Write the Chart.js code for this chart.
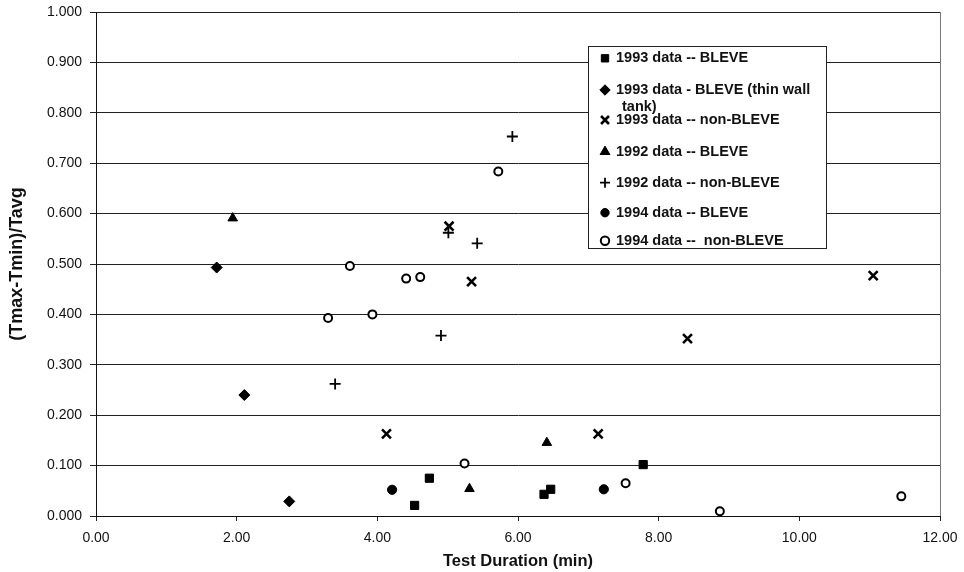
<!DOCTYPE html>
<html>
<head>
<meta charset="utf-8">
<script src="https://cdn.jsdelivr.net/npm/chart.js@4/dist/chart.umd.min.js"></script>
<style>
  html, body { margin: 0; padding: 0; background: #fff; }
  #wrap { width: 964px; height: 572px; }
</style>
</head>
<body>
<div id="wrap"><canvas id="c" width="964" height="572"></canvas></div>
<script>
// Series names
const seriesLabels = [
  "1993 data -- BLEVE",
  "1993 data - BLEVE (thin wall\ntank)",
  "1993 data -- non-BLEVE",
  "1992 data -- BLEVE",
  "1992 data -- non-BLEVE",
  "1994 data -- BLEVE",
  "1994 data --  non-BLEVE"
];

// Test duration (min) and (Tmax-Tmin)/Tavg for each series
const bleve1993X = [4.53, 4.74, 6.37, 6.465, 7.78];
const bleve1993Y = [0.021, 0.075, 0.043, 0.053, 0.102];

const thinWall1993X = [1.716, 2.109, 2.748];
const thinWall1993Y = [0.493, 0.240, 0.029];

const nonBleve1993X = [4.13, 5.02, 5.34, 7.14, 8.41, 11.05];
const nonBleve1993Y = [0.163, 0.575, 0.465, 0.163, 0.352, 0.477];

const bleve1992X = [1.944, 5.31, 6.41];
const bleve1992Y = [0.591, 0.054, 0.1455];

const nonBleve1992X = [3.40, 4.905, 5.01, 5.42, 5.92];
const nonBleve1992Y = [0.262, 0.358, 0.562, 0.541, 0.753];

const bleve1994X = [4.21, 7.22];
const bleve1994Y = [0.052, 0.053];

const nonBleve1994X = [3.30, 3.61, 3.93, 4.41, 4.61, 5.24, 5.72, 7.53, 8.87, 11.45];
const nonBleve1994Y = [0.393, 0.496, 0.400, 0.471, 0.474, 0.104, 0.6835, 0.065, 0.0095, 0.039];

// Axis ticks
const xTicks = [0, 2, 4, 6, 8, 10, 12];
const yTicks = [0, 0.1, 0.2, 0.3, 0.4, 0.5, 0.6, 0.7, 0.8, 0.9, 1.0];

const pairs = (xs, ys) => xs.map((x, i) => ({ x: x, y: ys[i] }));

const black = '#000';
const datasets = [
  { label: seriesLabels[0], data: pairs(bleve1993X, bleve1993Y), pointStyle: 'rect', pointRadius: 5.8, backgroundColor: black, borderColor: black, borderWidth: 1 },
  { label: seriesLabels[1], data: pairs(thinWall1993X, thinWall1993Y), pointStyle: 'rectRot', pointRadius: 5.5, backgroundColor: black, borderColor: black, borderWidth: 1 },
  { label: seriesLabels[2], data: pairs(nonBleve1993X, nonBleve1993Y), pointStyle: 'crossRot', pointRadius: 6.3, backgroundColor: black, borderColor: black, borderWidth: 2.6 },
  { label: seriesLabels[3], data: pairs(bleve1992X, bleve1992Y), pointStyle: 'triangle', pointRadius: 5.5, backgroundColor: black, borderColor: black, borderWidth: 1 },
  { label: seriesLabels[4], data: pairs(nonBleve1992X, nonBleve1992Y), pointStyle: 'cross', pointRadius: 5.5, backgroundColor: black, borderColor: black, borderWidth: 1.8 },
  { label: seriesLabels[5], data: pairs(bleve1994X, bleve1994Y), pointStyle: 'circle', pointRadius: 4.6, backgroundColor: black, borderColor: black, borderWidth: 1 },
  { label: seriesLabels[6], data: pairs(nonBleve1994X, nonBleve1994Y), pointStyle: 'circle', pointRadius: 4, backgroundColor: '#fff', borderColor: black, borderWidth: 2 }
];
datasets.forEach(d => { d.showLine = false; d.pointHoverRadius = d.pointRadius; });

// Marker sizes used inside the legend box
const legendRadius = { rect: 5.2, rectRot: 5.2, crossRot: 5.6, triangle: 5.6, cross: 5, circle: 4.2 };

// Legend box drawn over the plot area, top right
const boxedLegend = {
  id: 'boxedLegend',
  afterDatasetsDraw(chart) {
    const ctx = chart.ctx;
    const box = { left: 588, top: 46, right: 826, bottom: 248 };
    const rows = [58.3, 90, 120, 151.7, 182.7, 212.7, 240.7];
    const lineGap = 17.3;
    ctx.save();
    ctx.fillStyle = '#fff';
    ctx.fillRect(box.left, box.top, box.right - box.left, box.bottom - box.top);
    ctx.strokeStyle = '#222';
    ctx.lineWidth = 1;
    ctx.strokeRect(box.left + 0.5, box.top + 0.5, box.right - box.left, box.bottom - box.top);
    ctx.beginPath();
    ctx.rect(box.left, box.top, box.right - box.left, box.bottom - box.top);
    ctx.clip();
    ctx.font = "bold 14.5px 'Liberation Sans', Arial, sans-serif";
    ctx.textBaseline = 'middle';
    ctx.textAlign = 'left';
    chart.data.datasets.forEach((ds, i) => {
      const y = rows[i];
      ctx.save();
      ctx.fillStyle = ds.backgroundColor;
      ctx.strokeStyle = ds.borderColor;
      ctx.lineWidth = ds.borderWidth;
      Chart.helpers.drawPoint(ctx, { pointStyle: ds.pointStyle, radius: legendRadius[ds.pointStyle], rotation: 0, borderWidth: ds.borderWidth }, 605, y);
      ctx.restore();
      ctx.fillStyle = '#111';
      ds.label.split('\n').forEach((line, k) => {
        ctx.fillText(line, k === 0 ? 616 : 622, y + k * lineGap);
      });
    });
    ctx.restore();
  },
  afterDraw(chart) {
    // right-hand edge of the plot frame
    const a = chart.chartArea;
    const ctx = chart.ctx;
    ctx.save();
    ctx.strokeStyle = '#777';
    ctx.lineWidth = 1;
    ctx.beginPath();
    ctx.moveTo(Math.round(a.right) + 0.5, a.top);
    ctx.lineTo(Math.round(a.right) + 0.5, a.bottom);
    ctx.stroke();
    ctx.restore();
  }
};

new Chart(document.getElementById('c'), {
  type: 'scatter',
  data: { datasets: datasets },
  plugins: [boxedLegend],
  options: {
    responsive: false,
    animation: false,
    devicePixelRatio: 1,
    layout: { padding: { left: 0, right: 24, top: 12, bottom: 0 } },
    plugins: {
      legend: { display: false },
      tooltip: { enabled: false }
    },
    scales: {
      x: {
        type: 'linear',
        min: xTicks[0],
        max: xTicks[xTicks.length - 1],
        afterBuildTicks(scale) { scale.ticks = xTicks.map(v => ({ value: v })); },
        afterFit(scale) { scale.height = 56; scale.paddingLeft = 0; scale.paddingRight = 0; },
        ticks: {
          color: '#111',
          padding: 9,
          maxRotation: 0,
          font: { family: "'Liberation Sans', Arial, sans-serif", size: 14 },
          callback: v => Number(v).toFixed(2)
        },
        grid: { drawOnChartArea: false, drawTicks: true, tickLength: 5, color: '#222' },
        border: { display: true, color: '#111', width: 1 },
        title: {
          display: true,
          text: 'Test Duration (min)',
          color: '#111',
          padding: { top: 0, bottom: 1 },
          font: { family: "'Liberation Sans', Arial, sans-serif", size: 16.5, weight: 'bold' }
        }
      },
      y: {
        type: 'linear',
        min: yTicks[0],
        max: yTicks[yTicks.length - 1],
        afterBuildTicks(scale) { scale.ticks = yTicks.map(v => ({ value: v })); },
        afterFit(scale) { scale.width = 96; scale.paddingTop = 0; scale.paddingBottom = 0; },
        ticks: {
          color: '#111',
          padding: 8,
          font: { family: "'Liberation Sans', Arial, sans-serif", size: 14 },
          callback: v => Number(v).toFixed(3)
        },
        grid: { color: '#222', lineWidth: 1, tickLength: 6 },
        border: { display: true, color: '#111', width: 1 },
        title: {
          display: true,
          text: '(Tmax-Tmin)/Tavg',
          color: '#111',
          padding: { top: 6, bottom: 0 },
          font: { family: "'Liberation Sans', Arial, sans-serif", size: 18, weight: 'bold' }
        }
      }
    }
  }
});
</script>
</body>
</html>
